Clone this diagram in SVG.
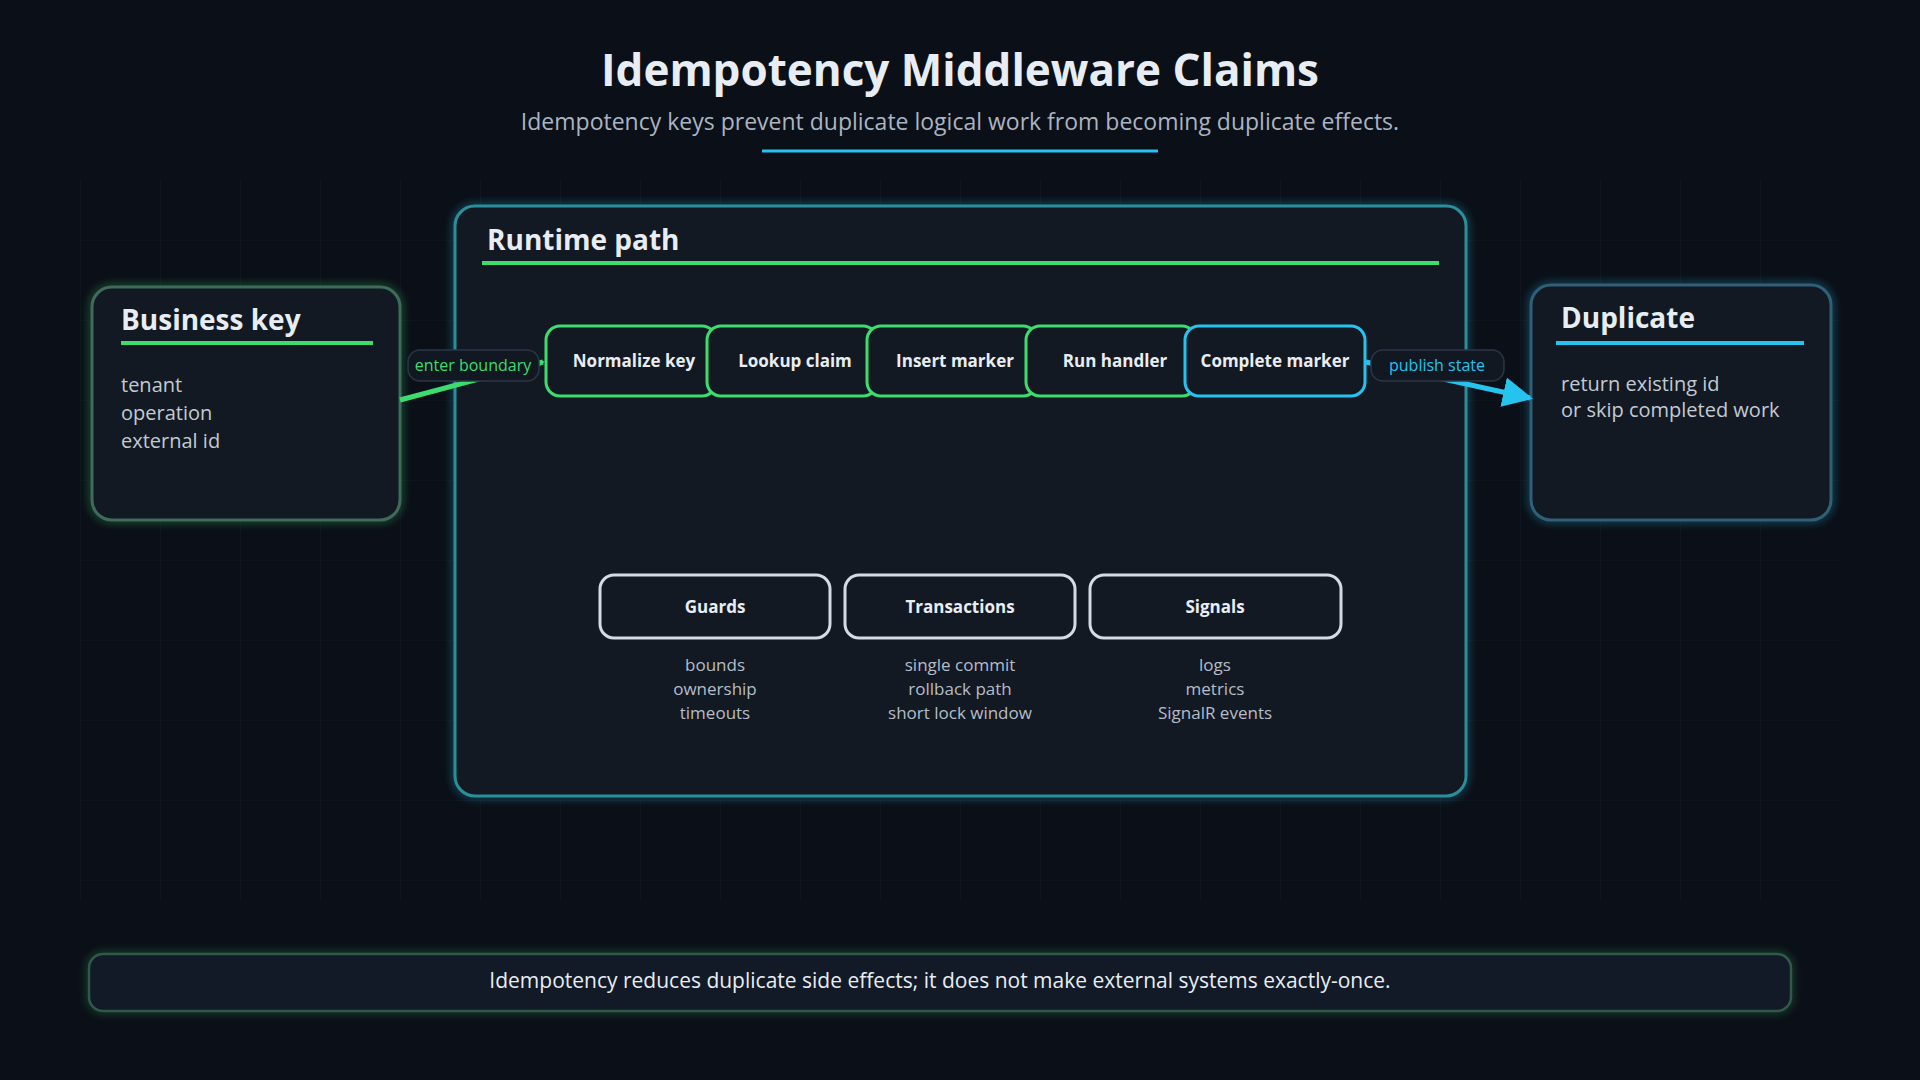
<svg xmlns="http://www.w3.org/2000/svg" width="1920" height="1080" viewBox="0 0 1920 1080">
<defs>
<pattern id="grid" width="80" height="80" patternUnits="userSpaceOnUse"><path d="M80 0H0V80" fill="none" stroke="#1a2230" stroke-width="1"/></pattern>
<filter id="glow" x="-20%" y="-20%" width="140%" height="140%"><feGaussianBlur stdDeviation="4"/></filter>
<marker id="ag" viewBox="0 0 10 10" refX="9" refY="5" markerWidth="4" markerHeight="4" orient="auto"><path d="M0 0L10 5L0 10z" fill="#3ddc6e"/></marker>
<marker id="ac" viewBox="0 0 10 10" refX="9" refY="5" markerWidth="6" markerHeight="6" orient="auto"><path d="M0 0L10 5L0 10z" fill="#27c3ef"/></marker>
</defs>
<style>
text{font-family:"Open Sans","Noto Sans","Liberation Sans",sans-serif;fill:#e8edf3}
.panel{fill:#121922;stroke-width:3}
.g{stroke:#3ddc6e}.c{stroke:#27c3ef}.w{stroke:#d6dbe3}
.h{font-weight:700;font-size:28px}
.body{font-size:20px;fill:#c3cad4}
.step{font-weight:700;font-size:17px;text-anchor:middle}
.sub{font-size:17px;fill:#b5bdc8;text-anchor:middle}
.pill{fill:#111821;stroke:#2b3645;stroke-width:1.5}
</style>
<rect width="1920" height="1080" fill="#0b0f17"/>
<rect x="80" y="180" width="1760" height="720" fill="url(#grid)" opacity="0.6"/>
<g id="title">
<text x="960" y="86" text-anchor="middle" font-size="44" font-weight="700" fill="#ffffff">Idempotency Middleware Claims</text>
<text x="960" y="130" text-anchor="middle" font-size="23" style="fill:#aab4c2">Idempotency keys prevent duplicate logical work from becoming duplicate effects.</text>
<line x1="762" y1="151" x2="1158" y2="151" stroke="#27c3ef" stroke-width="3"/>
</g>
<g id="runtime">
<rect x="455" y="206" width="1011" height="590" rx="20" fill="none" stroke="#27c3ef" stroke-width="6" opacity="0.35" filter="url(#glow)"/>
<rect x="455" y="206" width="1011" height="590" rx="20" class="panel" stroke="#2a8f9a" stroke-width="2.5"/>
<text x="487" y="250" class="h">Runtime path</text>
<line x1="482" y1="263" x2="1439" y2="263" stroke="#3ddc6e" stroke-width="4"/>
</g>
<g id="business-key">
<rect x="92" y="287" width="308" height="233" rx="20" fill="none" stroke="#3ddc6e" stroke-width="6" opacity="0.35" filter="url(#glow)"/>
<rect x="92" y="287" width="308" height="233" rx="20" class="panel" stroke="#3f6b5a"/>
<text x="121" y="330" class="h">Business key</text>
<line x1="121" y1="343" x2="373" y2="343" stroke="#3ddc6e" stroke-width="4"/>
<text x="121" y="392" class="body">tenant</text>
<text x="121" y="420" class="body">operation</text>
<text x="121" y="448" class="body">external id</text>
</g>
<g id="duplicate">
<rect x="1531" y="285" width="300" height="235" rx="20" fill="none" stroke="#27c3ef" stroke-width="6" opacity="0.35" filter="url(#glow)"/>
<rect x="1531" y="285" width="300" height="235" rx="20" class="panel" stroke="#2f6077"/>
<text x="1561" y="328" class="h">Duplicate</text>
<line x1="1556" y1="343" x2="1804" y2="343" stroke="#27c3ef" stroke-width="4"/>
<text x="1561" y="391" class="body">return existing id</text>
<text x="1561" y="417" class="body">or skip completed work</text>
</g>
<g id="connectors">
<path d="M400 400 L543 362" stroke="#3ddc6e" stroke-width="5" fill="none" marker-end="url(#ag)"/>
<path d="M1366 362 L1530 398" stroke="#27c3ef" stroke-width="5" fill="none" marker-end="url(#ac)"/>
<rect x="408" y="350" width="131" height="31" rx="12" class="pill"/>
<text x="473" y="371" text-anchor="middle" font-size="16" style="fill:#3ddc6e">enter boundary</text>
<rect x="1371" y="350" width="133" height="31" rx="12" class="pill"/>
<text x="1437" y="371" text-anchor="middle" font-size="16" style="fill:#27c3ef">publish state</text>
</g>
<g id="step-normalize"><rect x="546" y="326" width="170" height="70" rx="14" class="panel g"/><text x="634" y="367" class="step">Normalize key</text></g>
<g id="step-lookup"><rect x="707" y="326" width="170" height="70" rx="14" class="panel g"/><text x="795" y="367" class="step">Lookup claim</text></g>
<g id="step-insert"><rect x="867" y="326" width="170" height="70" rx="14" class="panel g"/><text x="955" y="367" class="step">Insert marker</text></g>
<g id="step-run"><rect x="1026" y="326" width="170" height="70" rx="14" class="panel g"/><text x="1115" y="367" class="step">Run handler</text></g>
<g id="step-complete"><rect x="1185" y="326" width="180" height="70" rx="14" class="panel c"/><text x="1275" y="367" class="step">Complete marker</text></g>
<g id="guards"><rect x="600" y="575" width="230" height="63" rx="14" class="panel w"/><text x="715" y="613" class="step">Guards</text>
<text x="715" y="671" class="sub">bounds</text><text x="715" y="695" class="sub">ownership</text><text x="715" y="719" class="sub">timeouts</text></g>
<g id="transactions"><rect x="845" y="575" width="230" height="63" rx="14" class="panel w"/><text x="960" y="613" class="step">Transactions</text>
<text x="960" y="671" class="sub">single commit</text><text x="960" y="695" class="sub">rollback path</text><text x="960" y="719" class="sub">short lock window</text></g>
<g id="signals"><rect x="1090" y="575" width="251" height="63" rx="14" class="panel w"/><text x="1215" y="613" class="step">Signals</text>
<text x="1215" y="671" class="sub">logs</text><text x="1215" y="695" class="sub">metrics</text><text x="1215" y="719" class="sub">SignalR events</text></g>
<g id="footer">
<rect x="89" y="954" width="1702" height="57" rx="14" fill="none" stroke="#3ddc6e" stroke-width="5" opacity="0.3" filter="url(#glow)"/>
<rect x="89" y="954" width="1702" height="57" rx="14" fill="#111a26" stroke="#2f5a4a" stroke-width="2.5"/>
<text x="940" y="988" text-anchor="middle" font-size="21" fill="#dfe5ec">Idempotency reduces duplicate side effects; it does not make external systems exactly-once.</text>
</g>
</svg>
